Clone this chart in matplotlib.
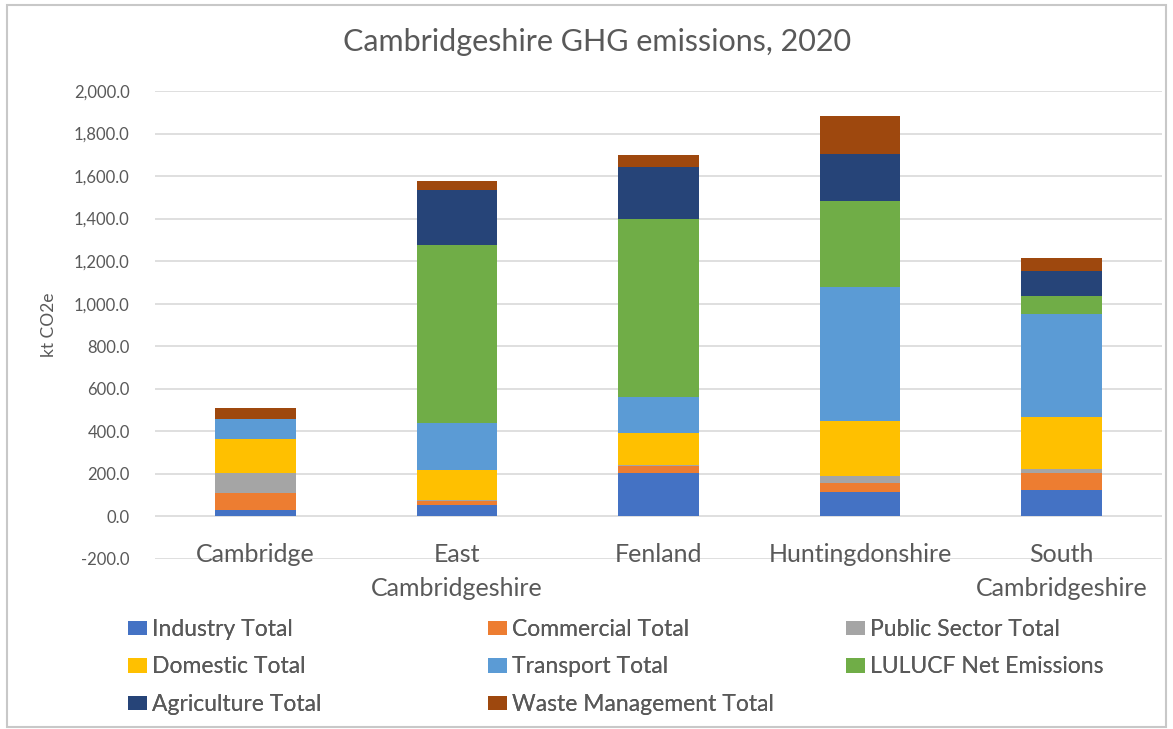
import matplotlib
matplotlib.use("Agg")
import matplotlib.pyplot as plt
from matplotlib.patches import Patch, Rectangle
import numpy as np

categories = ["Cambridge", "East\nCambridgeshire", "Fenland", "Huntingdonshire", "South\nCambridgeshire"]
series_names = ["Industry Total", "Commercial Total", "Public Sector Total", "Domestic Total",
                "Transport Total", "LULUCF Net Emissions", "Agriculture Total", "Waste Management Total"]
industry = [28, 56, 205, 116, 124]
commercial = [80, 15, 34, 42, 81]
public_sector = [97, 6, 3, 31, 16]
domestic = [160, 140, 151, 258, 245]
transport = [93, 220, 167, 631, 487]
lulucf = [0, 840, 839, 406, 81]
agriculture = [2, 258, 243, 219, 118]
waste = [52, 42, 58, 180, 62]
yticks = [-200, 0, 200, 400, 600, 800, 1000, 1200, 1400, 1600, 1800, 2000]

colors = ["#4472C4", "#ED7D31", "#A5A5A5", "#FFC000", "#5B9BD5", "#70AD47", "#264478", "#9E480E"]
series = [industry, commercial, public_sector, domestic, transport, lulucf, agriculture, waste]

plt.rcParams['font.family'] = ['Lato', 'DejaVu Sans']
txt = "#595959"

fig = plt.figure(figsize=(11.73, 7.29), dpi=100)
fig.patches.append(Rectangle((0.006, 0.003), 0.988, 0.99, transform=fig.transFigure,
                             fill=False, edgecolor="#c8c8c8", linewidth=1.5))
ax = fig.add_axes([0.132, 0.2332, 0.859, 0.642])

x = np.arange(len(categories))
bottom = np.zeros(len(categories))
for vals, c, name in zip(series, colors, series_names):
    v = np.array(vals, dtype=float)
    ax.bar(x, v, 0.4, bottom=bottom, color=c, label=name, zorder=3)
    bottom += v

ax.set_xlim(-0.5, 4.5)
ax.set_ylim(-200, 2000)
ax.set_yticks(yticks)
ax.set_yticklabels([f"{t:,.1f}" for t in yticks], fontsize=12, color=txt)
ax.yaxis.grid(True, color="#d9d9d9", linewidth=1.2, zorder=0)
ax.set_xticks([])
ax.tick_params(axis='y', length=0, pad=18)
for s in ax.spines.values():
    s.set_visible(False)
ax.set_ylabel("kt CO2e", fontsize=12.5, color=txt, labelpad=12)

for xi, lab in zip(x, categories):
    ax.text(xi, -125, lab, ha='center', va='top', fontsize=18, color=txt, linespacing=1.6)

fig.text(0.509, 0.942, "Cambridgeshire GHG emissions, 2020", ha='center', va='center',
         fontsize=22, color=txt)

handles = [Patch(facecolor=c, edgecolor='none') for c in colors]
cols = [[0, 3, 6], [1, 4, 7], [2, 5]]
xs = [0.109, 0.416, 0.721]
for cx, idxs in zip(xs, cols):
    leg = fig.legend([handles[i] for i in idxs], [series_names[i] for i in idxs],
                     loc='upper left', bbox_to_anchor=(cx, 0.151), frameon=False,
                     fontsize=16.5, labelcolor=txt, handlelength=0.85, handleheight=0.6,
                     handletextpad=0.2, labelspacing=0.72, borderaxespad=0, borderpad=0)
    fig.add_artist(leg)

fig.savefig("out.png", dpi=100)
